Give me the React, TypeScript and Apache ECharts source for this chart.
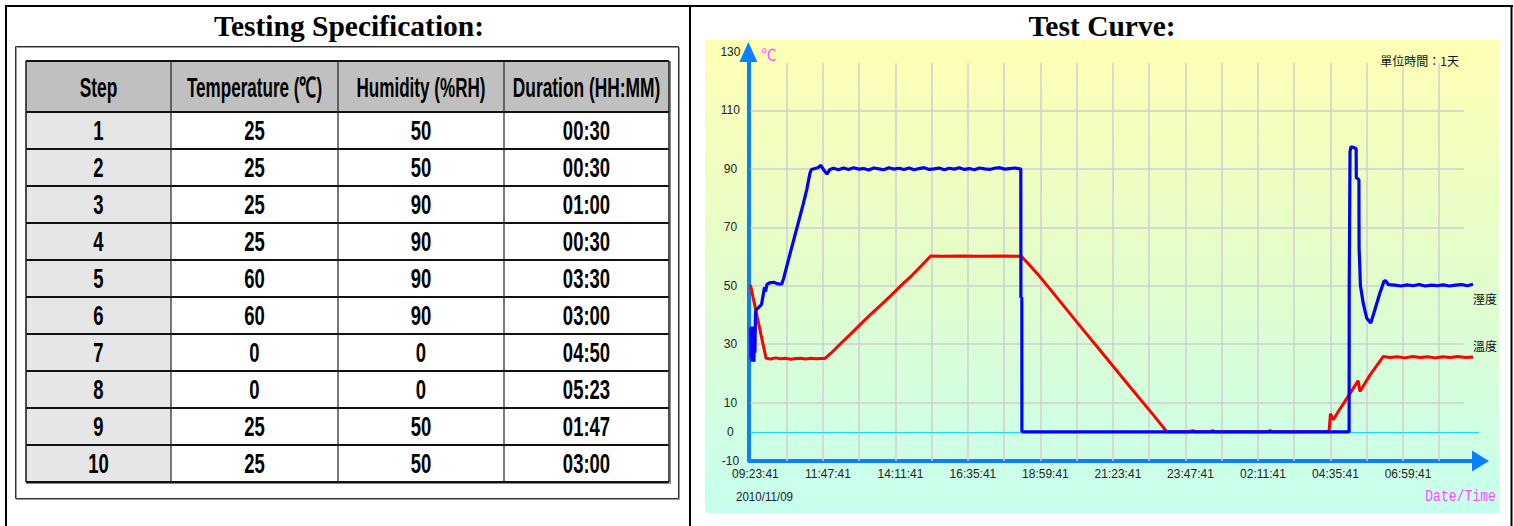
import React, { useEffect, useRef } from 'react';
import * as echarts from 'echarts';

// ---------- Table data ----------
const leftTitle = 'Testing Specification:';
const rightTitle = 'Test Curve:';
const tableHeaders = ['Step', 'Temperature (℃)', 'Humidity (%RH)', 'Duration (HH:MM)'];
const stepNumbers = ['1', '2', '3', '4', '5', '6', '7', '8', '9', '10'];
const stepTemperatures = [25, 25, 25, 25, 60, 60, 0, 0, 25, 25];
const stepHumidities = [50, 50, 90, 90, 90, 90, 0, 0, 50, 50];
const stepDurations = ['00:30', '00:30', '01:00', '00:30', '03:30', '03:00', '04:50', '05:23', '01:47', '03:00'];

// ---------- Chart data ----------
const xTickLabels = ['09:23:41', '11:47:41', '14:11:41', '16:35:41', '18:59:41', '21:23:41', '23:47:41', '02:11:41', '04:35:41', '06:59:41'];
const yTickLabels = [130, 110, 90, 70, 50, 30, 10, 0, -10];
const yGridValues = [110, 90, 70, 50, 30, 10];
const startDate = '2010/11/09';
const unitText = '單位時間：1天';
const humidityName = '溼度';
const temperatureName = '溫度';
const yUnit = '℃';
const xName = 'Date/Time';

// minutes since 09:23:41, value
const temperatureCurve: [number, number][] = [
  [0, 50.3], [31, 25.2], [40, 24.9], [50, 25.3], [60, 25], [70, 25.2], [80, 24.8], [90, 25.1], [100, 25.2],
  [110, 24.9], [120, 25.2], [130, 25], [140, 25.1], [148, 25.1],
  [160, 26.9], [180, 30.3], [200, 33.6], [220, 37], [240, 40.4], [260, 43.5], [280, 46.8], [300, 50.2],
  [320, 53.4], [340, 56.9], [358, 60.2],
  [380, 60.1], [420, 60.2], [460, 60.1], [500, 60.2], [538, 60.1], [545, 58.8], [569, 54.3], [600, 47.8],
  [650, 37.2], [700, 26.7], [750, 16.2], [800, 5.8], [827, 0],
  [870, 0], [879, 0.4], [885, 0], [912, 0], [918, 0.4], [924, 0], [1026, 0], [1032, 0.4], [1038, 0], [1149, 0],
  [1152, 6.2], [1157.6, 4.1], [1170, 7.6], [1190, 12.9], [1207, 17.5], [1210.6, 13.8], [1230, 19.3], [1257, 25.8],
  [1270, 25.4], [1285, 25.7], [1300, 25.3], [1315, 25.8], [1330, 25.4], [1345, 25.7], [1360, 25.3], [1375, 25.7],
  [1390, 25.4], [1405, 25.8], [1420, 25.4], [1435, 25.6],
];

const humidityCurve: [number, number][] = [
  [0, 36], [1, 25], [2, 34], [3, 24], [4, 36], [5, 26], [6, 33], [7, 24], [8, 35], [9, 27], [10, 40],
  [11, 41.7], [16, 42.5], [22, 43.5], [25, 46.5], [28, 49.5], [30, 48], [33, 50.5], [38, 51], [46, 51.2],
  [55, 50.6], [62, 50.5], [66, 52.5],
  [75, 58.5], [85, 65], [95, 71.5], [105, 78], [112, 83], [118, 88.3], [121, 89.8], [128, 90.1], [134, 90.4],
  [140, 91.2], [146, 89.5], [152, 88.2], [158, 89.8],
  [165, 90.2], [175, 89.7], [185, 90.3], [195, 89.8], [205, 90.4], [215, 89.9], [225, 90.1], [235, 89.6],
  [245, 90.3], [255, 90.0], [265, 89.7], [275, 90.4], [285, 89.9], [295, 90.2], [305, 89.8], [315, 90.3],
  [325, 89.7], [335, 90.1], [345, 90.4], [355, 89.8], [365, 90.0], [375, 90.3], [385, 89.7], [395, 90.2],
  [405, 89.9], [415, 90.4], [425, 89.8], [435, 90.1], [445, 89.7], [455, 90.3], [465, 90.0], [475, 89.8],
  [485, 90.2], [495, 90.4], [505, 89.9], [515, 90.1], [525, 90.3], [535, 90.0],
  [537, 90], [537.2, 46], [539, 46], [539.2, 0],
  [1189, 0], [1189.2, 48.5], [1190.6, 48.5], [1190.8, 96], [1193, 97.6], [1198, 97.3], [1203, 96.9],
  [1203.3, 87], [1208.5, 86.3], [1208.8, 63], [1211.5, 50],
  [1217, 44], [1224, 38.9], [1232, 37.2], [1240, 41.7], [1250, 47.4], [1258, 51.4], [1261, 51.8], [1267, 50.4],
  [1280, 50.2], [1292, 49.9], [1304, 50.3], [1316, 50.0], [1328, 50.4], [1340, 49.9], [1352, 50.2], [1364, 50.0],
  [1376, 50.3], [1388, 49.9], [1400, 50.2], [1412, 50.4], [1424, 50.0], [1435, 50.5],
];

// axis config
const X_MAX = 1440; // minutes
const X_GRID_STEP = 72; // minutes between vertical grid lines
const X_LABEL_STEP = 144; // minutes between labels
const GRID_TOP_VALUE = 126.2;
const H_GRID_END = 1417;
const ZERO_END = 1447;

const NARROW = '"Liberation Sans Narrow", "Arial Narrow", "Liberation Sans", Arial, sans-serif';
const CJK = '"Noto Sans CJK TC", "Noto Sans CJK SC", sans-serif';

function buildGraphics(): any[] {
  const els: any[] = [];
  const line = (x1: number, y1: number, x2: number, y2: number, stroke: string, lineWidth: number, z = 5) =>
    els.push({ type: 'line', z, silent: true, shape: { x1, y1, x2, y2 }, style: { stroke, lineWidth } });
  const text = (x: number, y: number, t: string, font: string, fill: string, align: string, scaleX = 1, z = 10) =>
    els.push({
      type: 'text', z, x, y, scaleX, silent: true,
      style: { text: t, font, fill, textAlign: align, textVerticalAlign: 'middle' },
    });

  // chart background
  els.push({
    type: 'rect', z: -10, silent: true,
    shape: { x: 705, y: 40, width: 794, height: 473 },
    style: {
      fill: new echarts.graphic.LinearGradient(0, 0, 0, 1, [
        { offset: 0, color: '#ffffb4' },
        { offset: 0.5, color: '#e2fdcc' },
        { offset: 1, color: '#c6ffee' },
      ]),
    },
  });

  // outer frame
  line(5, 6, 1513, 6, '#000', 2);
  line(6, 5, 6, 526, '#000', 2);
  line(690, 5, 690, 526, '#000', 2);
  line(1511.5, 5, 1511.5, 526, '#000', 2);

  // titles
  const titleFont = 'bold 29.5px "Liberation Serif", "Times New Roman", serif';
  text(349, 25.5, leftTitle, titleFont, '#000', 'center');
  text(1102, 25.5, rightTitle, titleFont, '#000', 'center');

  // inner box
  els.push({ type: 'rect', z: 1, silent: true, shape: { x: 16.5, y: 47.5, width: 663, height: 452 }, style: { fill: 'none', stroke: '#9a9a9a', lineWidth: 1 } });
  els.push({ type: 'rect', z: 1, silent: true, shape: { x: 15.5, y: 46.5, width: 663, height: 452 }, style: { fill: 'none', stroke: '#333', lineWidth: 1 } });

  // table
  const colX = [26, 171, 338, 504, 669];
  const headTop = 61;
  const headBottom = 112;
  const rowH = 37;
  const nRows = stepNumbers.length;
  const tableBottom = headBottom + rowH * nRows;

  for (let c = 0; c < 4; c++) {
    els.push({ type: 'rect', z: 2, silent: true, shape: { x: colX[c], y: headTop, width: colX[c + 1] - colX[c], height: headBottom - headTop }, style: { fill: '#c0c0c0' } });
  }
  for (let r = 0; r < nRows; r++) {
    const y = headBottom + rowH * r;
    for (let c = 0; c < 4; c++) {
      els.push({ type: 'rect', z: 2, silent: true, shape: { x: colX[c], y, width: colX[c + 1] - colX[c], height: rowH }, style: { fill: c === 0 ? '#e6e6e6' : '#ffffff' } });
    }
  }
  // lines
  line(colX[0], headTop, colX[4], headTop, '#111', 2);
  for (let r = 0; r <= nRows; r++) {
    const y = headBottom + rowH * r;
    line(colX[0], y, colX[4], y, '#111', 2);
  }
  line(colX[0], tableBottom + 1.5, colX[4] + 1, tableBottom + 1.5, '#888', 1);
  for (let c = 0; c <= 4; c++) {
    line(colX[c], headTop, colX[c], tableBottom, '#222', c === 0 || c === 4 ? 1.6 : 1.2);
  }
  line(colX[4] + 1.5, headTop, colX[4] + 1.5, tableBottom + 2, '#888', 1);

  const cellFont = 'bold 28px "Liberation Sans", Arial, sans-serif';
  const headScale = [0.62, 0.61, 0.61, 0.62];
  for (let c = 0; c < 4; c++) {
    text((colX[c] + colX[c + 1]) / 2, 87, tableHeaders[c], cellFont, '#000', 'center', headScale[c]);
  }
  for (let r = 0; r < nRows; r++) {
    const y = headBottom + rowH * r + 19;
    const vals = [stepNumbers[r], String(stepTemperatures[r]), String(stepHumidities[r]), stepDurations[r]];
    for (let c = 0; c < 4; c++) {
      text((colX[c] + colX[c + 1]) / 2, y, vals[c], cellFont, '#000', 'center', 0.66);
    }
  }

  // chart texts
  text(769, 53, yUnit, `15px ${CJK}`, '#ff4dff', 'center');
  text(1459, 60, unitText, `12px ${CJK}`, '#111', 'right');
  text(1473, 298, humidityName, `12px ${CJK}`, '#111', 'left');
  text(1473, 345.5, temperatureName, `12px ${CJK}`, '#111', 'left');
  text(1496, 497, xName, '16px "Liberation Mono", "DejaVu Sans Mono", monospace', '#ff4dff', 'right', 0.82);
  text(736, 497, startDate, `13px ${NARROW}`, '#222', 'left', 0.89);

  return els;
}

function buildGridLines(): any[] {
  const data: any[] = [];
  for (let t = X_GRID_STEP; t < X_MAX; t += X_GRID_STEP) {
    data.push({ coords: [[t, -10], [t, GRID_TOP_VALUE]] });
  }
  yGridValues.forEach((v) => data.push({ coords: [[0, v], [H_GRID_END, v]] }));
  data.push({ coords: [[0, 0], [ZERO_END, 0]], lineStyle: { color: '#19dcef', width: 1, opacity: 1 } });
  return data;
}

export default function App() {
  const ref = useRef<HTMLDivElement>(null);
  useEffect(() => {
    document.body.style.margin = '0';
    const chart = echarts.init(ref.current!, null, { renderer: 'svg', width: 1514, height: 526 });
    const axisBlue = '#0a80ff';
    chart.setOption({
      animation: false,
      grid: { left: 750.4, top: 52, width: 725.1, height: 409, containLabel: false, outerBoundsMode: 'none' },
      xAxis: {
        type: 'value',
        min: 0,
        max: X_MAX,
        interval: X_GRID_STEP,
        axisLine: {
          show: true,
          onZero: false,
          lineStyle: { color: axisBlue, width: 4 },
          symbol: ['none', 'triangle'],
          symbolSize: [21, 17],
          symbolOffset: [0, 5],
        },
        axisTick: { show: false },
        splitLine: { show: false },
        axisLabel: {
          margin: 7,
          fontSize: 12,
          fontFamily: NARROW,
          color: '#222',
          padding: [0, 0, 0, 10],
          formatter: (v: number) => {
            const i = v / X_LABEL_STEP;
            return Number.isInteger(i) && i < xTickLabels.length ? xTickLabels[i] : '';
          },
        },
      },
      yAxis: {
        type: 'value',
        min: -10,
        max: 130,
        interval: 10,
        offset: 2,
        axisLine: {
          show: true,
          onZero: false,
          lineStyle: { color: axisBlue, width: 4 },
          symbol: ['none', 'triangle'],
          symbolSize: [18, 20],
        },
        axisTick: { show: false },
        splitLine: { show: false },
        axisLabel: {
          margin: 18,
          align: 'center',
          fontSize: 12,
          fontFamily: NARROW,
          color: '#222',
          formatter: (v: number) => (yTickLabels.includes(v) ? String(v) : ''),
        },
      },
      graphic: { elements: buildGraphics() },
      series: [
        {
          type: 'lines',
          coordinateSystem: 'cartesian2d',
          z: 1,
          silent: true,
          clip: false,
          lineStyle: { color: '#cfcfcf', width: 1.5, opacity: 1, curveness: 0 },
          data: buildGridLines(),
        },
        {
          type: 'line',
          name: temperatureName,
          data: temperatureCurve,
          showSymbol: false,
          symbol: 'none',
          z: 2,
          lineStyle: { color: '#ff0000', width: 3 },
          itemStyle: { color: '#ff0000' },
        },
        {
          type: 'line',
          name: humidityName,
          data: humidityCurve,
          showSymbol: false,
          symbol: 'none',
          z: 3,
          lineStyle: { color: '#0000ff', width: 3.2 },
          itemStyle: { color: '#0000ff' },
        },
      ],
    });
    return () => chart.dispose();
  }, []);
  return <div ref={ref} style={{ width: 1514, height: 526 }} />;
}
